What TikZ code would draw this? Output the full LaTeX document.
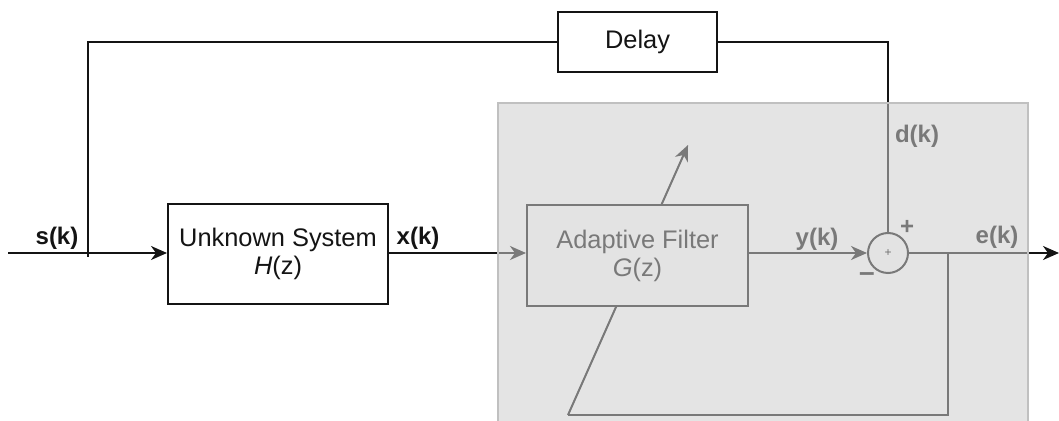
\documentclass[tikz,border=0pt]{standalone}
\usepackage{fontspec}
\setmainfont{Liberation Sans}
\usetikzlibrary{arrows.meta}
\definecolor{ovl}{RGB}{205,205,205}
\definecolor{ovlborder}{RGB}{192,192,192}
\definecolor{ink}{RGB}{20,20,20}
\begin{document}
\begin{tikzpicture}[x=0.5pt,y=-0.5pt,
  line width=1pt, draw=ink,
  arr/.style={-{Stealth[length=8pt,width=7pt,inset=2.5pt]}},
  blockbox/.style={draw=ink, line width=1pt, fill=white, align=center,
    inner sep=0pt, font=\fontsize{12.7}{14}\selectfont, text=ink},
  lbl/.style={font=\bfseries\fontsize{12}{14}\selectfont, text=ink, inner sep=0pt},
  sumnode/.style={circle, draw=ink, line width=1pt, fill=white, minimum size=20pt, inner sep=0pt,
    font=\fontsize{6}{7}\selectfont}
]
\useasboundingbox (0,0) rectangle (1059,421);

% coordinates
\coordinate (in) at (8,253);
\coordinate (br) at (88,257);
\coordinate (tl) at (88,42);
\coordinate (out) at (1059,253);
\coordinate (fb) at (948,253);
\coordinate (fbbot) at (948,415);
\coordinate (fbleft) at (568,415);
\coordinate (adtip) at (688,145);

% diagonal adaptation arrow (behind filter box)
\draw[arr] (fbleft) -- (adtip);

% blocks
\node[blockbox, minimum width=110pt, minimum height=50pt] (unk) at (278,254)
  {Unknown System\\\textit{H}(z)};
\node[blockbox, minimum width=110.5pt, minimum height=50.5pt] (ada) at (637.5,255.5)
  {Adaptive Filter\\\textit{G}(z)};
\node[blockbox, minimum width=79.5pt, minimum height=30pt] (delay) at (637.5,42) {Delay};
\node[sumnode] (sum) at (888,253) {+};

% connectors
\draw[arr] (in) -- (unk.west |- in);
\draw (br) -- (tl) -- (delay.west);
\draw (delay.east) -| (sum.north);
\draw[arr] (unk.east |- in) -- (ada.west |- in);
\draw[arr] (ada.east |- in) -- (sum.west);
\draw[arr] (sum.east) -- (out);
\draw (fb) -- (fbbot) -- (fbleft);

% labels
\node[lbl] (ls) at (57,238) {s(k)};
\node[lbl] (lx) at (418,238) {x(k)};
\node[lbl] (ly) at (817,239) {y(k)};
\node[lbl] (le) at (997,237) {e(k)};
\node[lbl] (ld) at (917,136) {d(k)};
\node[lbl] (lplus) at (907,227) {+};
\node[lbl, font=\bfseries\fontsize{14}{16}\selectfont] (lminus) at (867,277) {--};

% semi-transparent overlay
\fill[ovl, fill opacity=0.55] (498,103) rectangle (1028,430);
\draw[ovlborder, line width=0.75pt] (498,430) -- (498,103) -- (1028,103) -- (1028,430);
\end{tikzpicture}
\end{document}
